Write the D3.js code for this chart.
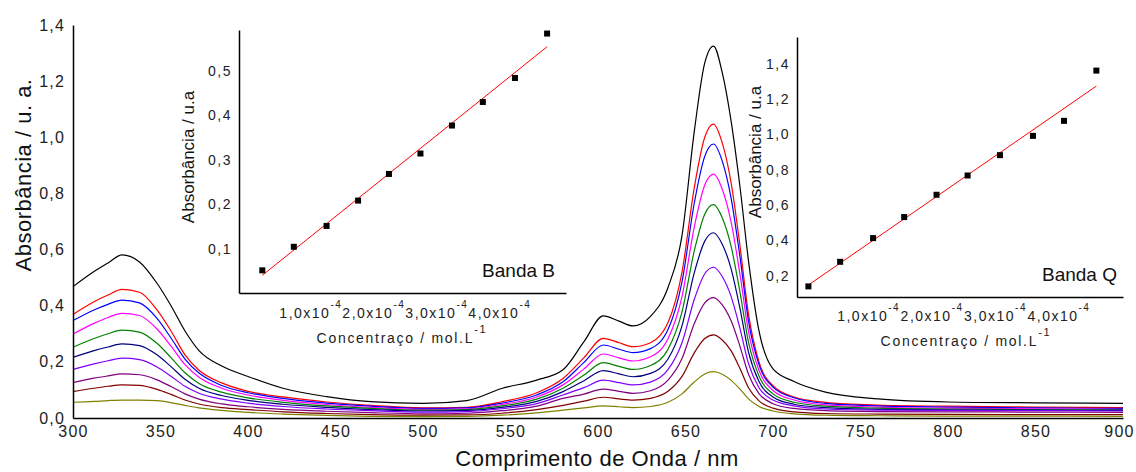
<!DOCTYPE html>
<html><head><meta charset="utf-8">
<script src="https://cdn.jsdelivr.net/npm/d3@7/dist/d3.min.js"></script>
<style>
body{margin:0;background:#fff;}
svg{display:block;font-family:"Liberation Sans",Arial,sans-serif;}
</style></head><body>
<svg id="c" width="1136" height="472"></svg>
<script>
// ---------- main spectra data ----------
const wavelengths = [300,312,320,328,338,348,356,364,372,385,400,420,445,470,500,525,545,565,580,592,603,612,620,630,640,648,655,661,666,671,676,681,686,692,700,712,730,760,800,850,900];
const absBlack  = [.468,.522,.552,.581,.556,.48,.40,.31,.24,.185,.148,.106,.076,.058,.052,.062,.105,.135,.172,.272,.364,.345,.328,.362,.465,.65,1.02,1.265,1.325,1.23,1.06,.83,.56,.31,.175,.13,.092,.068,.057,.054,.052];
const absRed    = [.369,.414,.438,.458,.448,.385,.31,.225,.17,.125,.095,.075,.057,.045,.036,.038,.058,.09,.141,.215,.284,.268,.254,.268,.34,.52,.82,1.0,1.047,.98,.84,.62,.37,.2,.115,.075,.056,.046,.042,.039,.037];
const absBlue   = [.347,.385,.405,.420,.41,.355,.285,.21,.16,.116,.09,.07,.053,.042,.034,.036,.053,.082,.129,.198,.26,.245,.233,.247,.315,.485,.765,.932,.976,.915,.785,.58,.345,.19,.11,.072,.052,.043,.039,.036,.034];
const absMagenta= [.299,.337,.358,.373,.365,.317,.256,.19,.145,.106,.082,.063,.048,.038,.031,.033,.048,.075,.118,.175,.228,.214,.203,.218,.282,.432,.68,.83,.869,.815,.7,.517,.308,.17,.098,.064,.047,.039,.035,.033,.031];
const absGreen  = [.252,.283,.3,.313,.306,.266,.215,.161,.123,.092,.072,.056,.043,.034,.028,.03,.043,.067,.106,.153,.197,.184,.173,.187,.245,.378,.595,.726,.76,.713,.613,.453,.27,.15,.086,.056,.042,.035,.032,.03,.029];
const absNavy   = [.216,.24,.253,.264,.258,.225,.183,.138,.106,.08,.063,.049,.038,.03,.025,.027,.038,.059,.094,.133,.169,.157,.147,.159,.21,.328,.517,.63,.66,.619,.533,.394,.235,.13,.075,.049,.037,.031,.029,.028,.027];
const absViolet = [.173,.193,.204,.213,.208,.182,.149,.113,.088,.067,.053,.041,.032,.026,.021,.023,.033,.051,.082,.108,.135,.126,.118,.128,.172,.268,.422,.514,.537,.504,.434,.322,.194,.108,.064,.043,.032,.028,.027,.026,.025];
const absPurple = [.126,.142,.15,.157,.154,.136,.112,.086,.067,.05,.04,.031,.024,.019,.015,.017,.026,.042,.07,.085,.103,.095,.088,.097,.135,.212,.336,.41,.429,.403,.347,.258,.156,.087,.051,.034,.026,.023,.022,.021,.02];
const absWine   = [.094,.106,.113,.118,.116,.102,.084,.064,.05,.037,.03,.022,.016,.012,.01,.011,.017,.03,.045,.06,.074,.068,.064,.07,.095,.148,.232,.283,.296,.278,.24,.178,.108,.061,.035,.022,.016,.014,.013,.012,.012];
const absOlive  = [.056,.059,.062,.064,.064,.062,.055,.045,.036,.027,.02,.014,.009,.006,.005,.006,.01,.018,.028,.036,.043,.04,.037,.041,.056,.086,.128,.157,.165,.156,.135,.104,.068,.041,.025,.015,.01,.008,.007,.007,.006];
const seriesColors = ["#000000","#ff0000","#0000ff","#ff00ff","#008000","#000080","#8000ff","#800080","#800000","#808000"];
const seriesValues = [absBlack,absRed,absBlue,absMagenta,absGreen,absNavy,absViolet,absPurple,absWine,absOlive];
const xTicks = [300,350,400,450,500,550,600,650,700,750,800,850,900];
const yTicks = [0,0.2,0.4,0.6,0.8,1.0,1.2,1.4];

// ---------- inset data ----------
const concB = [0.23,0.73,1.25,1.75,2.24,2.74,3.24,3.73,4.24,4.75]; // x 1e-4 mol/L
const absB  = [0.051,0.104,0.151,0.208,0.268,0.314,0.377,0.430,0.484,0.584];
const concQ = [0.05,0.55,1.07,1.56,2.07,2.56,3.07,3.59,4.08,4.59];
const absQ  = [0.140,0.279,0.413,0.532,0.658,0.767,0.882,0.991,1.076,1.360];
const insetXTicks = [1,2,3,4]; // x 1e-4
const insetBYTicks = [0.1,0.2,0.3,0.4,0.5];
const insetQYTicks = [0.2,0.4,0.6,0.8,1.0,1.2,1.4];

const svg = d3.select("#c");
const fmt = d => d3.format(".1f")(d).replace(".", ",");
const textCol = "#222";

// ---------- main chart ----------
const x = d3.scaleLinear([300,900],[73,1123]);
const y = d3.scaleLinear([0,1.4],[418,25]);

const line = d3.line().curve(d3.curveMonotoneX);
const gLines = svg.append("g");
seriesValues.forEach((vals,i)=>{
  gLines.append("path")
    .attr("d", line(wavelengths.map((w,j)=>[x(w), y(vals[j])])))
    .attr("fill","none").attr("stroke",seriesColors[i]).attr("stroke-width",1.2);
});

const gx = svg.append("g").attr("transform","translate(0,418)")
  .call(d3.axisBottom(x).tickValues(xTicks).tickSize(0).tickPadding(8).tickFormat(d3.format("d")));
const gy = svg.append("g").attr("transform","translate(73,0)")
  .call(d3.axisLeft(y).tickValues(yTicks).tickSize(0).tickPadding(8).tickFormat(fmt));
[gx,gy].forEach(g=>{
  g.select(".domain").attr("stroke","#000").attr("stroke-width",1.5);
  g.selectAll("text").attr("font-size",16).attr("fill",textCol)
   .attr("font-family","'Liberation Sans',Arial,sans-serif").style("letter-spacing","1.2px");
});
gx.selectAll(".tick text").filter(d=>d===900).attr("dx",-4);
svg.append("text").attr("transform","translate(31,175) rotate(-90)")
  .attr("text-anchor","middle").attr("font-size",22).attr("fill","#111").style("letter-spacing","0.5px")
  .text("Absorbância / u. a.");
svg.append("text").attr("x",597).attr("y",466)
  .attr("text-anchor","middle").attr("font-size",22).attr("fill","#111").style("letter-spacing","0.5px")
  .text("Comprimento de Onda / nm");

// ---------- insets ----------
function regression(xs, ys){
  const mx = d3.mean(xs), my = d3.mean(ys);
  const b = d3.sum(xs,(v,i)=>(v-mx)*(ys[i]-my))/d3.sum(xs,v=>(v-mx)*(v-mx));
  return {a: my-b*mx, b};
}
function inset(o){
  const g = svg.append("g");
  const xs = d3.scaleLinear(o.xDomain,[o.left,o.right]);
  const ys = d3.scaleLinear(o.yDomain,[o.bottom,o.top]);
  const r = regression(o.conc,o.abs);
  const c0 = d3.min(o.conc), c1 = d3.max(o.conc);
  g.append("path").attr("d", d3.line()([[xs(c0),ys(r.a+r.b*c0)],[xs(c1),ys(r.a+r.b*c1)]]))
    .attr("stroke","#ff0000").attr("stroke-width",1).attr("fill","none");
  g.selectAll("rect.pt").data(o.conc).join("rect").attr("class","pt")
    .attr("x",(d)=>xs(d)-3).attr("y",(d,i)=>ys(o.abs[i])-3).attr("width",6).attr("height",6).attr("fill","#000");
  const ax = g.append("g").attr("transform",`translate(0,${o.bottom})`)
    .call(d3.axisBottom(xs).tickValues(o.xTicks).tickSize(0).tickFormat(""));
  const ay = g.append("g").attr("transform",`translate(${o.left},0)`)
    .call(d3.axisLeft(ys).tickValues(o.yTicks).tickSize(0).tickPadding(7).tickFormat(fmt));
  [ax,ay].forEach(a=>a.select(".domain").attr("stroke","#000").attr("stroke-width",1.5));
  ay.selectAll("text").attr("font-size",14).attr("fill",textCol).style("letter-spacing","1.5px")
    .attr("font-family","'Liberation Sans',Arial,sans-serif");
  o.xTicks.forEach(t=>{
    const tx = g.append("text").attr("x",xs(t*1e-4)).attr("y",o.xLabelY).attr("text-anchor","middle")
      .attr("font-size",14).attr("fill",textCol).style("letter-spacing","1.5px");
    tx.append("tspan").text(fmt(t)+"x10");
    tx.append("tspan").attr("dy",-10).attr("font-size",10).text("-4");
  });
  const tt = g.append("text").attr("x",o.titleX).attr("y",o.titleY).attr("text-anchor","middle")
    .attr("font-size",14).attr("fill",textCol).style("letter-spacing","1.7px");
  tt.append("tspan").text("Concentraço / mol.L");
  tt.append("tspan").attr("dy",-10).attr("font-size",11).text("-1");
  g.append("text").attr("transform",`translate(${o.yTitleX},${o.yTitleY}) rotate(-90)`)
    .attr("text-anchor","middle").attr("font-size",17).attr("fill","#111").text("Absorbância / u.a");
  g.append("text").attr("x",o.bandX).attr("y",o.bandY).attr("text-anchor","end")
    .attr("font-size",19).attr("fill","#111").text(o.band);
}
inset({conc:concB.map(v=>v*1e-4),abs:absB,xDomain:[-0.14e-4,5.05e-4],yDomain:[0,0.592],
  left:239,right:566,top:30,bottom:293,xTicks:insetXTicks,yTicks:insetBYTicks,
  xLabelY:318,titleX:402,titleY:343,yTitleX:194,yTitleY:157,band:"Banda B",bandX:555,bandY:277});
inset({conc:concQ.map(v=>v*1e-4),abs:absQ,xDomain:[-0.13e-4,5.01e-4],yDomain:[0.08,1.55],
  left:797,right:1123,top:37,bottom:297,xTicks:insetXTicks,yTicks:insetQYTicks,
  xLabelY:321,titleX:966,titleY:346,yTitleX:761,yTitleY:152,band:"Banda Q",bandX:1117,bandY:281});
</script>
</body></html>
